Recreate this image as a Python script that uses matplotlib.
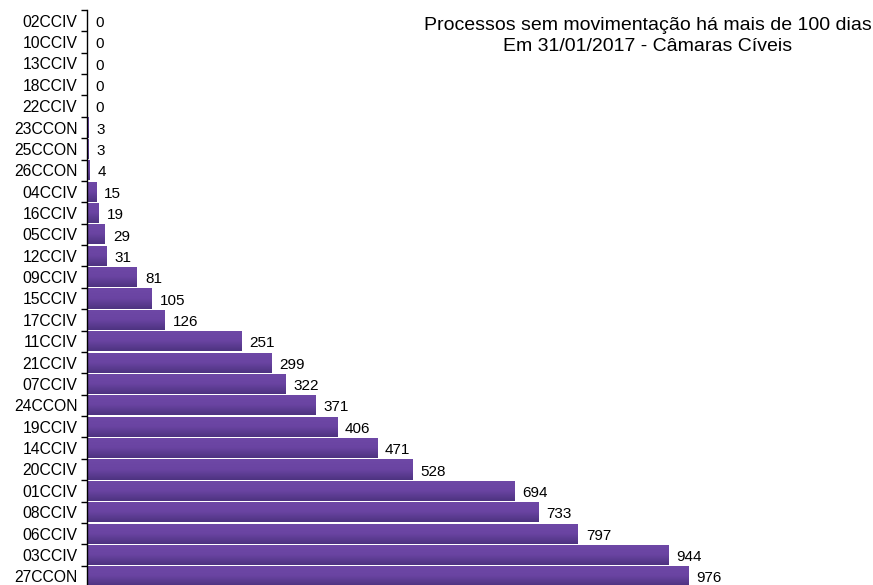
import matplotlib.pyplot as plt
import numpy as np
from matplotlib.colors import LinearSegmentedColormap

plt.rcParams['font.family'] = ['Liberation Sans', 'DejaVu Sans']

# Data, top to bottom as shown
camaras = ['02CCIV', '10CCIV', '13CCIV', '18CCIV', '22CCIV', '23CCON', '25CCON',
           '26CCON', '04CCIV', '16CCIV', '05CCIV', '12CCIV', '09CCIV', '15CCIV',
           '17CCIV', '11CCIV', '21CCIV', '07CCIV', '24CCON', '19CCIV', '14CCIV',
           '20CCIV', '01CCIV', '08CCIV', '06CCIV', '03CCIV', '27CCON']
processos = [0, 0, 0, 0, 0, 3, 3, 4, 15, 19, 29, 31, 81, 105, 126, 251, 299,
             322, 371, 406, 471, 528, 694, 733, 797, 944, 976]
titulo = ['Processos sem movimentação há mais de 100 dias',
          'Em 31/01/2017 - Câmaras Cíveis']

fig = plt.figure(figsize=(8.73, 5.85), dpi=100)
ax = fig.add_axes([87 / 873, -2 / 585, 1 - 87 / 873, 577 / 585])

n = len(camaras)
y = np.arange(n)[::-1]
xmax = 976 * (873 - 87) / 601
ax.set_xlim(0, xmax)
ax.set_ylim(-0.5, n - 0.5)

cmap = LinearSegmentedColormap.from_list('roxo', ['#4d3380', '#6a44a2', '#6e48a6'])
grad = np.linspace(0, 1, 64).reshape(-1, 1)

bars = ax.barh(y, processos, height=0.94, color='none', edgecolor='none')
for bar in bars:
    x0, y0 = bar.get_x(), bar.get_y()
    w, h = bar.get_width(), bar.get_height()
    if w <= 0:
        continue
    im = ax.imshow(grad, cmap=cmap, aspect='auto', origin='lower',
                   extent=[x0, x0 + w, y0, y0 + h], zorder=2)
    im.set_clip_path(bar)

for yi, v in zip(y, processos):
    ax.text(v + 13, yi - 0.1, str(v), va='center', ha='left', fontsize=11)

ax.set_yticks(y)
ax.set_yticklabels(camaras, fontsize=11.3)
ax.set_yticks(np.arange(n + 1) - 0.5, minor=True)
ax.tick_params(axis='y', which='major', length=0, pad=7)
ax.tick_params(axis='y', which='minor', length=4, width=1)
ax.set_xticks([])

for s in ['top', 'right', 'bottom']:
    ax.spines[s].set_visible(False)
ax.spines['left'].set_linewidth(1)

# two title lines, placed separately
fig.text(648 / 873, 1 - 30 / 585, titulo[0], ha='center', va='baseline', fontsize=14)
fig.text(648 / 873, 1 - 51 / 585, titulo[1], ha='center', va='baseline', fontsize=14)

fig.savefig('out.png', dpi=100)
